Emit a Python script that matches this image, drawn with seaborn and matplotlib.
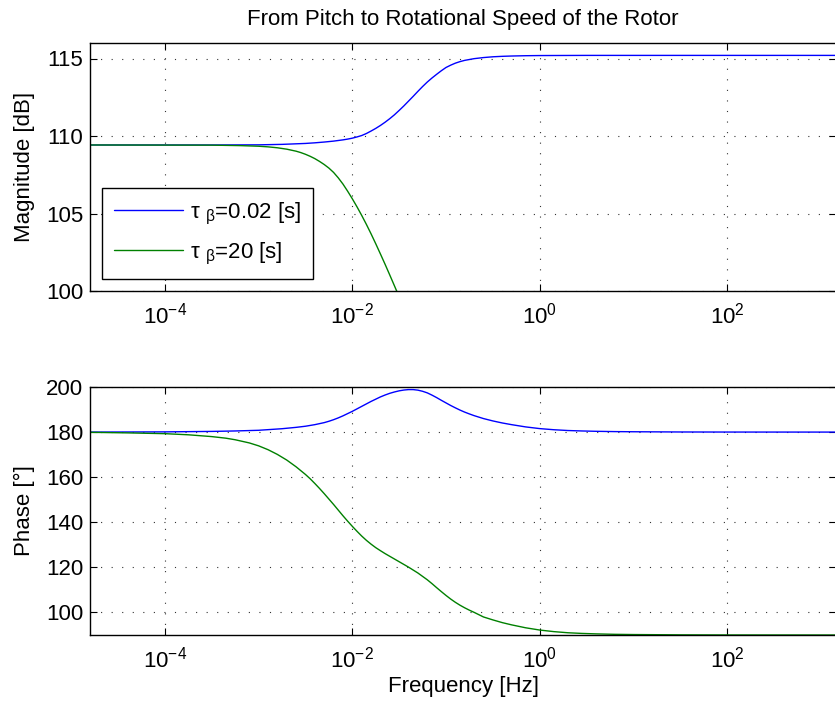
import numpy as np
import pandas as pd
import matplotlib
matplotlib.use("Agg")
import matplotlib.pyplot as plt
import seaborn as sns
from matplotlib.ticker import FixedLocator, FixedFormatter, NullLocator
from matplotlib.lines import Line2D

# ---------------- data ----------------
title = "From Pitch to Rotational Speed of the Rotor"
series_names = [r"$\mathrm{\tau}\ {}_{\mathrm{\beta}}$=0.02 [s]",
                r"$\mathrm{\tau}\ {}_{\mathrm{\beta}}$=20 [s]"]
series_colors = ["#0000ff", "#008000"]

# log10 of frequency [Hz]
blue_mag_logf = [-4.8, -3.5, -3.0, -2.75, -2.5, -2.4, -2.3, -2.25, -2.2, -2.15, -2.1,
                 -2.05, -2.0, -1.95, -1.9, -1.85, -1.8, -1.75, -1.7, -1.65, -1.6, -1.55,
                 -1.5, -1.45, -1.4, -1.35, -1.3, -1.25, -1.2, -1.15, -1.1, -1.05, -1.0,
                 -0.95, -0.9, -0.85, -0.8, -0.7, -0.6, -0.5, -0.4, -0.3, -0.15, 0.0,
                 0.5, 3.2]
blue_mag_db = [109.42, 109.42, 109.43, 109.46, 109.52, 109.56, 109.61, 109.64, 109.67,
               109.71, 109.75, 109.80, 109.86, 109.94, 110.03, 110.16, 110.32, 110.49,
               110.68, 110.89, 111.12, 111.37, 111.65, 111.94, 112.25, 112.56, 112.88,
               113.19, 113.48, 113.74, 113.98, 114.21, 114.42, 114.57, 114.70, 114.80,
               114.88, 114.99, 115.06, 115.11, 115.14, 115.16, 115.18, 115.19, 115.20,
               115.20]

green_mag_logf = [-4.8, -3.5, -3.2, -3.0, -2.9, -2.8, -2.7, -2.6, -2.55, -2.5, -2.45,
                  -2.4, -2.35, -2.3, -2.25, -2.2, -2.15, -2.1, -2.05, -2.0, -1.95, -1.9,
                  -1.85, -1.8, -1.75, -1.7, -1.65, -1.6, -1.55, -1.5, -1.4]
green_mag_db = [109.42, 109.41, 109.38, 109.34, 109.30, 109.24, 109.15, 109.02, 108.93,
                108.82, 108.69, 108.54, 108.36, 108.16, 107.93, 107.65, 107.30, 106.90,
                106.44, 105.95, 105.43, 104.88, 104.30, 103.69, 103.05, 102.39, 101.72,
                101.03, 100.33, 99.62, 98.18]

blue_phase_logf = [-4.8, -4.0, -3.5, -3.25, -3.0, -2.75, -2.6, -2.5, -2.4, -2.3, -2.25,
                   -2.2, -2.15, -2.1, -2.05, -2.0, -1.95, -1.9, -1.85, -1.8, -1.75, -1.7,
                   -1.65, -1.6, -1.55, -1.5, -1.45, -1.4, -1.35, -1.3, -1.25, -1.2, -1.15,
                   -1.1, -1.05, -1.0, -0.95, -0.9, -0.85, -0.8, -0.75, -0.7, -0.6, -0.5,
                   -0.4, -0.3, -0.15, 0.0, 0.15, 0.3, 0.45, 0.6, 0.8, 1.0, 1.5, 2.0, 3.2]
blue_phase_deg = [180.0, 180.1, 180.3, 180.5, 180.8, 181.5, 182.1, 182.6, 183.3, 184.2,
                  184.8, 185.5, 186.3, 187.2, 188.2, 189.2, 190.3, 191.4, 192.5, 193.6,
                  194.6, 195.6, 196.45, 197.2, 197.8, 198.3, 198.65, 198.85, 198.85,
                  198.6, 198.1, 197.4, 196.4, 195.3, 194.1, 192.95, 191.8, 190.75,
                  189.75, 188.85, 188.05, 187.3, 186.0, 184.95, 184.05, 183.3, 182.3,
                  181.55, 181.05, 180.7, 180.5, 180.35, 180.22, 180.15, 180.05, 180.02,
                  180.0]

green_phase_logf = [-4.8, -4.4, -4.0, -3.75, -3.5, -3.35, -3.25, -3.1, -3.0, -2.9, -2.8,
                    -2.7, -2.6, -2.5, -2.45, -2.4, -2.35, -2.3, -2.25, -2.2, -2.15, -2.1,
                    -2.05, -2.0, -1.95, -1.9, -1.85, -1.8, -1.75, -1.7, -1.65, -1.6,
                    -1.55, -1.5, -1.45, -1.4, -1.35, -1.3, -1.25, -1.2, -1.15, -1.1,
                    -1.05, -1.0, -0.95, -0.9, -0.85, -0.8, -0.75, -0.7, -0.6, -0.5, -0.4,
                    -0.3, -0.15, 0.0, 0.15, 0.3, 0.45, 0.6, 0.8, 1.0, 1.5, 2.0, 3.2]
green_phase_deg = [179.9, 179.65, 179.3, 178.8, 178.0, 177.3, 176.6, 175.2, 173.9, 172.2,
                   170.1, 167.6, 164.6, 161.2, 159.3, 157.2, 155.0, 152.7, 150.3, 147.9,
                   145.4, 142.9, 140.5, 138.2, 136.0, 133.9, 132.0, 130.3, 128.75, 127.4,
                   126.1, 124.9, 123.7, 122.5, 121.3, 120.1, 118.8, 117.5, 116.0, 114.5,
                   112.8, 111.0, 109.25, 107.55, 105.95, 104.5, 103.2, 102.05, 101.0,
                   100.05, 98.0, 96.7, 95.5, 94.5, 93.2, 92.2, 91.5, 91.0, 90.7, 90.5,
                   90.3, 90.2, 90.07, 90.02, 90.0]

xtick_values = [1e-4, 1e-2, 1e0, 1e2]
xtick_labels = [r"$\mathdefault{10^{-4}}$", r"$\mathdefault{10^{-2}}$",
                r"$\mathdefault{10^{0}}$", r"$\mathdefault{10^{2}}$"]
mag_ticks = [100, 105, 110, 115]
phase_ticks = [100, 120, 140, 160, 180, 200]

# ---------------- style ----------------
sns.set_style("ticks")
plt.rcParams.update({
    "font.family": ["Liberation Sans", "DejaVu Sans"],
    "mathtext.fontset": "custom",
    "mathtext.rm": "Liberation Sans",
    "mathtext.it": "Liberation Sans:italic",
    "mathtext.bf": "Liberation Sans:bold",
    "font.size": 16,
    "text.color": "black",
    "axes.labelcolor": "black",
    "xtick.color": "black",
    "ytick.color": "black",
    "axes.edgecolor": "black",
})

def frame(logf, vals, name):
    return pd.DataFrame({"freq": 10.0 ** np.asarray(logf), "value": vals, "series": name})

mag_df = pd.concat([frame(blue_mag_logf, blue_mag_db, series_names[0]),
                    frame(green_mag_logf, green_mag_db, series_names[1])])
phase_df = pd.concat([frame(blue_phase_logf, blue_phase_deg, series_names[0]),
                      frame(green_phase_logf, green_phase_deg, series_names[1])])
palette = dict(zip(series_names, series_colors))

W, H = 835, 705
fig = plt.figure(figsize=(W / 100, H / 100), dpi=100)
ax_left, ax_w, ax_h = 90 / W, 746 / W, 248 / H
ax1 = fig.add_axes([ax_left, 1 - 291 / H, ax_w, ax_h])
ax2 = fig.add_axes([ax_left, 1 - 635 / H, ax_w, ax_h])

xlim = (10 ** -4.8, 10 ** 3.163)

for ax, df, ylim, yt in [(ax1, mag_df, (100, 116), mag_ticks),
                          (ax2, phase_df, (90, 200), phase_ticks)]:
    ax.set_xscale("log")
    sns.lineplot(data=df, x="freq", y="value", hue="series", palette=palette,
                 estimator=None, sort=True, linewidth=1.0, ax=ax, legend=False)
    ax.set_xlim(*xlim)
    ax.set_ylim(*ylim)
    ax.xaxis.set_major_locator(FixedLocator(xtick_values))
    ax.xaxis.set_major_formatter(FixedFormatter(xtick_labels))
    ax.xaxis.set_minor_locator(NullLocator())
    ax.set_yticks(yt)
    ax.grid(True, which="major", color="#333333", linestyle=(0, (1, 8.5)), linewidth=0.8)
    ax.tick_params(direction="in", top=True, right=True, length=5, width=0.8,
                   labelsize=16, pad=5, colors="black")
    ax.tick_params(axis="x", pad=8)
    for s in ["left", "top", "bottom"]:
        ax.spines[s].set_linewidth(1.0)
        ax.spines[s].set_color("black")
    ax.spines["right"].set_visible(False)
    ax.set_xlabel("")
    ax.set_facecolor("white")

ax1.set_ylabel("Magnitude [dB]", fontsize=16, labelpad=8, color="black")
ax2.set_ylabel("Phase [\u00b0]", fontsize=16, labelpad=8, color="black")
ax2.set_xlabel("Frequency [Hz]", fontsize=16, labelpad=3, color="black")
ax1.set_title(title, fontsize=16, pad=13, color="black")

handles = [Line2D([], [], color=c, lw=1.0) for c in series_colors]
leg = ax1.legend(handles, series_names, loc="lower left",
                 bbox_to_anchor=(0.016, 0.048), borderaxespad=0, fancybox=False,
                 framealpha=1, edgecolor="black", fontsize=16, handlelength=3.1,
                 handletextpad=0.3, borderpad=0.55, labelspacing=0.63)
leg.get_frame().set_linewidth(1.0)
for t in leg.get_texts():
    t.set_color("black")

fig.savefig("out.png", dpi=100, facecolor="white")
